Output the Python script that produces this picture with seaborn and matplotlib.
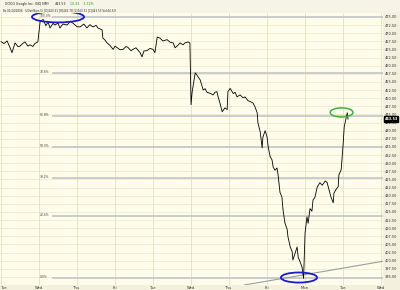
import numpy as np
import pandas as pd
import matplotlib
matplotlib.use("Agg")
import matplotlib.pyplot as plt
import matplotlib.transforms as mtransforms
from matplotlib.patches import Ellipse
import seaborn as sns

# ---------------- data ----------------
day_labels = ["Tue", "Wed", "Thu", "Fri", "Tue", "Wed", "Thu", "Fri", "Mon", "Tue", "Wed"]

t = [0.00, 0.08, 0.16, 0.24, 0.29, 0.37, 0.45, 0.50, 0.58, 0.63,
     0.71, 0.76, 0.84, 0.89, 0.97, 1.03, 1.11, 1.18, 1.24, 1.29,
     1.37, 1.42, 1.50, 1.55, 1.63, 1.74, 1.82, 1.89, 2.00, 2.08,
     2.18, 2.26, 2.34, 2.42, 2.50, 2.55, 2.66, 2.68, 2.74, 2.79,
     2.87, 2.95, 3.00, 3.05, 3.13, 3.21, 3.29, 3.34, 3.42, 3.47,
     3.55, 3.66, 3.71, 3.76, 3.84, 3.92, 4.00, 4.05, 4.11, 4.18,
     4.26, 4.37, 4.45, 4.53, 4.58, 4.66, 4.71, 4.79, 4.84, 4.92,
     4.97, 5.00, 5.03, 5.11, 5.16, 5.24, 5.32, 5.37, 5.42, 5.50,
     5.58, 5.63, 5.68, 5.71, 5.76, 5.82, 5.89, 5.95, 5.97, 6.03,
     6.11, 6.16, 6.21, 6.29, 6.37, 6.42, 6.50, 6.55, 6.63, 6.68,
     6.74, 6.76, 6.82, 6.87, 6.89, 6.95, 7.00, 7.03, 7.08, 7.13,
     7.16, 7.21, 7.26, 7.29, 7.34, 7.39, 7.42, 7.47, 7.53, 7.55,
     7.61, 7.66, 7.68, 7.74, 7.79, 7.82, 7.87, 7.92, 7.96, 8.00,
     8.03, 8.05, 8.08, 8.13, 8.18, 8.21, 8.26, 8.32, 8.39, 8.45,
     8.47, 8.53, 8.58, 8.61, 8.68, 8.74, 8.76, 8.82, 8.87, 8.89,
     8.95, 9.00, 9.03, 9.08, 9.11, 9.13]

price = [467.4, 466.8, 467.6, 465.5, 464.0, 467.0, 465.8, 466.0, 466.9, 467.3,
         466.0, 466.4, 465.9, 466.8, 467.3, 473.6, 474.2, 472.3, 473.4, 471.6,
         473.0, 472.5, 473.1, 471.6, 472.8, 472.5, 473.6, 473.1, 472.0, 471.9,
         472.8, 471.6, 472.6, 471.9, 472.4, 471.6, 471.0, 468.5, 467.8, 467.0,
         466.2, 465.0, 466.0, 465.6, 464.9, 465.0, 465.9, 465.6, 464.6, 465.0,
         465.5, 464.0, 462.7, 464.5, 464.6, 465.3, 465.0, 464.0, 468.8, 468.5,
         467.6, 468.0, 467.2, 467.0, 465.5, 466.3, 467.0, 466.4, 467.0, 467.3,
         467.0, 448.0, 452.0, 457.8, 457.0, 455.6, 452.5, 452.9, 451.8, 451.5,
         451.0, 451.8, 452.0, 450.5, 448.5, 445.8, 447.0, 446.5, 452.0, 453.0,
         451.4, 451.8, 450.4, 451.0, 450.1, 450.4, 449.2, 449.0, 448.5, 447.4,
         445.5, 442.4, 439.6, 434.7, 438.0, 440.0, 438.0, 435.0, 432.0, 431.0,
         428.8, 427.8, 428.5, 426.4, 421.0, 419.6, 415.6, 411.6, 409.5, 407.3,
         404.2, 402.8, 400.2, 402.4, 404.2, 401.0, 399.6, 398.0, 394.5, 408.5,
         411.6, 413.5, 411.5, 416.0, 415.2, 418.7, 419.5, 422.7, 424.0, 423.2,
         423.5, 424.5, 424.0, 422.7, 419.6, 417.8, 420.8, 422.0, 422.7, 426.4,
         428.0, 435.6, 441.2, 443.9, 445.5, 443.5]

fib_labels = ["100.0%", "78.6%", "61.8%", "50.0%", "38.2%", "23.6%", "0.0%"]
fib_ratios = [1.0, 0.786, 0.618, 0.5, 0.382, 0.236, 0.0]
fib_high = 475.0
fib_low = 394.8

last_price = 443.53
change = 10.33
change_pct = 3.72

trend_t = [6.4, 10.05]
trend_p = [392.5, 399.8]

blue_marks = [(1.50, 475.0), (7.84, 394.8)]
green_mark = (8.96, 445.6)

# ---------------- style ----------------
sns.set_style("white")
plt.rcParams["font.family"] = ["DejaVu Sans"]

PLOT_BG = "#fefcea"
FIG_BG = "#f3f0de"
MINOR = "#eee8cc"
DAYLINE = "#e6e0c2"
FIBC = "#c2c5c9"

fig = plt.figure(figsize=(4.0, 2.9), dpi=100)
fig.patch.set_facecolor(FIG_BG)
ax = fig.add_axes([0.0, 5 / 290, 383 / 400, (285 - 13) / 290])
ax.set_facecolor(PLOT_BG)

ax.set_xlim(-0.026, 10.05)
ax.set_ylim(392.5, 476.2)

# grid
yt = np.arange(395, 475.01, 2.5)
for v in yt:
    ax.axhline(v, color=MINOR, lw=0.5, zorder=0)
for d in range(len(day_labels)):
    ax.axvline(d, color=DAYLINE, lw=0.6, zorder=0)

# fibonacci lines
for lab, r in zip(fib_labels, fib_ratios):
    lvl = fib_low + r * (fib_high - fib_low)
    ax.hlines(lvl, 1.34, 10.05, color=FIBC, lw=1.2, zorder=1)
    ax.text(1.03, lvl + 0.3, lab, fontsize=2.2, color="#444444",
            ha="left", va="center", zorder=2)

# trend line
ax.plot(trend_t, trend_p, color="#9a9ea4", lw=0.8, zorder=2)

# price line
df = pd.DataFrame({"t": t, "price": price})
sns.lineplot(data=df, x="t", y="price", ax=ax, color="black", lw=0.6,
             estimator=None, sort=False, zorder=3)

# ellipses
for (cx, cy), w, h in zip(blue_marks, [1.37, 0.95], [3.4, 3.1]):
    ax.add_patch(Ellipse((cx, cy), w, h, fill=False, ec="#1c1ccf", lw=1.3, zorder=4, clip_on=False))
ax.add_patch(Ellipse(green_mark, 0.6, 2.8, fill=False, ec="#3cb43c", lw=1.1, zorder=4))

# axes
ax.set_xlabel("")
ax.set_ylabel("")
ax.set_xticks(range(len(day_labels)))
ax.set_xticklabels(day_labels)
ax.xaxis.set_tick_params(length=0, pad=1.0, labelsize=2.7, labelcolor="#333333")
xl = ax.get_xticklabels()
xl[0].set_ha("left")
ax.yaxis.tick_right()
ax.set_yticks(yt)
ax.set_yticklabels([f"{v:.2f}" for v in yt])
ax.yaxis.set_tick_params(length=0, pad=1.3, labelsize=2.5, labelcolor="#333333")
for s in ax.spines.values():
    s.set_visible(False)

# last price box
trans = mtransforms.blended_transform_factory(ax.transAxes, ax.transData)
ax.text(1.004, last_price, f"{last_price:.2f}", transform=trans, fontsize=2.5,
        color="white", fontweight="bold", ha="left", va="center", zorder=6,
        bbox=dict(boxstyle="square,pad=0.2", fc="black", ec="black"), clip_on=False)

# header
fig.patches.append(plt.Rectangle((0, 1 - 13 / 290), 1, 13 / 290, transform=fig.transFigure,
                                 fc="#f6f4e6", ec="none", zorder=0))
fig.text(0.012, 1 - 4 / 290, "GOOG Google Inc. (NQ NM)", fontsize=2.3,
         color="#222222", ha="left", va="center")
fig.text(0.138, 1 - 4 / 290, f"{last_price:.2f}", fontsize=2.3,
         color="#222222", ha="left", va="center")
fig.text(0.175, 1 - 4 / 290, f"{change:.2f}    {change_pct:.2f}%", fontsize=2.3,
         color="#1aa01a", ha="left", va="center")
fig.text(0.008, 1 - 10 / 290,
         "Bs 01/24/2006   5/Dat(Bars:5) [O]443.31 [H]443.78 [L]443.31 [C]443.53 Vol:44.6 K",
         fontsize=2.0, color="#333333", ha="left", va="center")

fig.savefig("out.png", dpi=100, facecolor=fig.get_facecolor())
